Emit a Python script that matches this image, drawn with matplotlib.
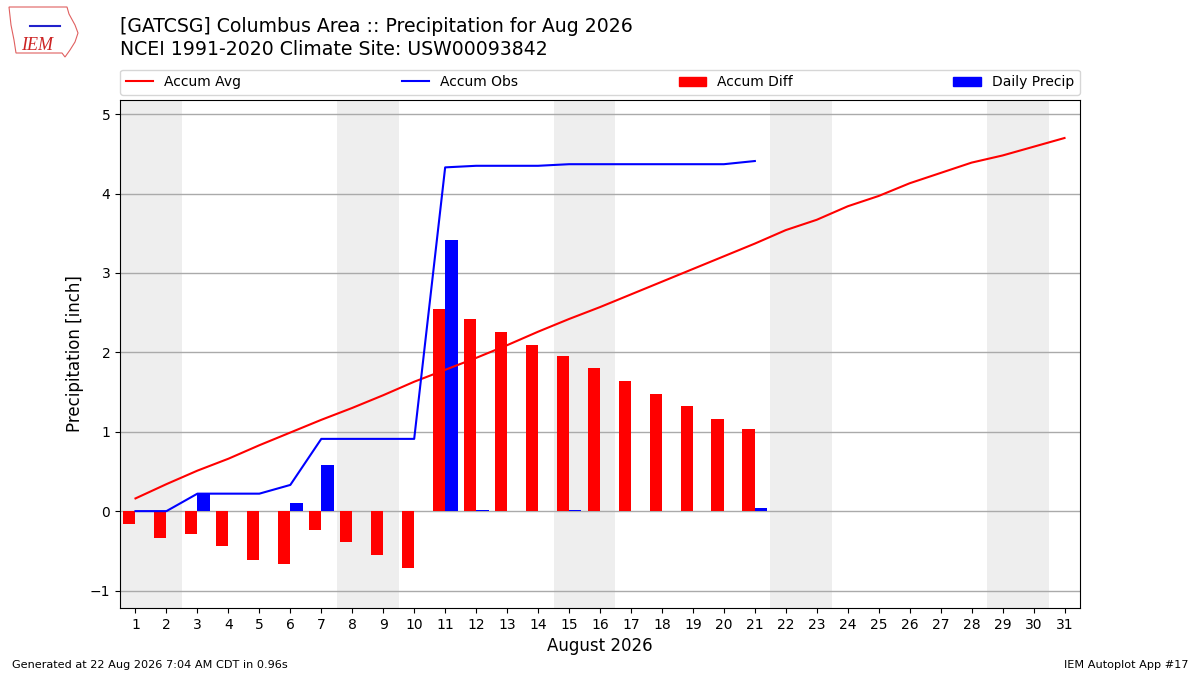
import matplotlib
matplotlib.use("Agg")
import matplotlib.pyplot as plt
import numpy as np
from matplotlib.patches import Patch, Polygon
from matplotlib.lines import Line2D

days = list(range(1, 32))
obs_days = list(range(1, 22))
daily_precip = [0.00, 0.00, 0.22, 0.00, 0.00, 0.10, 0.58, 0.00, 0.00, 0.00,
                3.42, 0.01, 0.00, 0.00, 0.01, 0.00, 0.00, 0.00, 0.00, 0.00, 0.04]
accum_obs = [0.00, 0.00, 0.22, 0.22, 0.22, 0.33, 0.91, 0.91, 0.91, 0.91,
             4.33, 4.35, 4.35, 4.35, 4.37, 4.37, 4.37, 4.37, 4.37, 4.37, 4.41]
accum_avg = [0.16, 0.34, 0.51, 0.66, 0.83, 0.99, 1.15, 1.30, 1.46, 1.63,
             1.78, 1.93, 2.09, 2.26, 2.42, 2.57, 2.73, 2.89, 3.05, 3.21,
             3.37, 3.54, 3.67, 3.84, 3.97, 4.13, 4.26, 4.39, 4.48, 4.59, 4.70]
weekend_starts = [1, 8, 15, 22, 29]

accum_diff = [o - a for o, a in zip(accum_obs, accum_avg[:len(accum_obs)])]

fig = plt.figure(figsize=(12, 6.75), dpi=100)
ax = fig.add_axes([0.1, 0.0993, 0.8, 0.7527])

for s in weekend_starts:
    ax.axvspan(s - 0.5, s + 1.5, color="#eeeeee", zorder=0, lw=0)

ax.grid(axis="y", color="#aaaaaa", lw=1, zorder=1)
ax.set_axisbelow(True)

ax.bar(obs_days, accum_diff, width=-0.4, align="edge", color="red", zorder=2)
ax.bar(obs_days, daily_precip, width=0.4, align="edge", color="blue", zorder=2)
ax.plot(days, accum_avg, color="red", lw=1.5, zorder=3)
ax.plot(obs_days, accum_obs, color="blue", lw=1.5, zorder=3)

ax.set_xlim(0.5, 31.5)
ax.set_ylim(-1.22, 5.18)
ax.set_xticks(days)
ax.set_xticklabels([str(d) for d in days], fontsize=10)
ax.set_yticks([-1, 0, 1, 2, 3, 4, 5])
ax.tick_params(axis="y", labelsize=10)
ax.set_xlabel("August 2026", fontsize=12)
ax.set_ylabel("Precipitation [inch]", fontsize=12)

handles = [Line2D([0], [0], color="red", lw=1.5),
           Line2D([0], [0], color="blue", lw=1.5),
           Patch(color="red"), Patch(color="blue")]
labels = ["Accum Avg", "Accum Obs", "Accum Diff", "Daily Precip"]
ax.legend(handles, labels, loc="lower left", bbox_to_anchor=(0, 1.01, 1, 0.05),
          mode="expand", ncol=4, fontsize=10, borderaxespad=0)

fig.text(0.1, 0.975, "[GATCSG] Columbus Area :: Precipitation for Aug 2026\nNCEI 1991-2020 Climate Site: USW00093842",
         fontsize=13.6, va="top", ha="left", linespacing=1.25)

fig.text(0.01, 0.008, "Generated at 22 Aug 2026 7:04 AM CDT in 0.96s", fontsize=8.15, ha="left", va="bottom")
fig.text(0.99, 0.008, "IEM Autoplot App #17", fontsize=8.15, ha="right", va="bottom")

# simple logo approximation (Iowa outline + IEM text)
outline_px = [(9, 7), (67, 7), (69, 14), (75, 25), (78, 33), (75, 42), (70, 50),
              (65, 57), (62, 53), (16, 53), (14, 40), (11, 25)]
outline = [(x / 1200.0, 1 - y / 675.0) for x, y in outline_px]
fig.patches.append(Polygon(outline, closed=True, fill=False, edgecolor="#e06060",
                           lw=0.8, transform=fig.transFigure, figure=fig))
fig.text(0.031, 0.932, "IEM", fontsize=13, color="#cc2222", style="italic",
         family="Liberation Serif", ha="center", va="center")
fig.add_artist(Line2D([30 / 1200, 60 / 1200], [1 - 26 / 675, 1 - 26 / 675],
                      color="#2222cc", lw=1.5, transform=fig.transFigure))

fig.savefig("out.png", dpi=100)
